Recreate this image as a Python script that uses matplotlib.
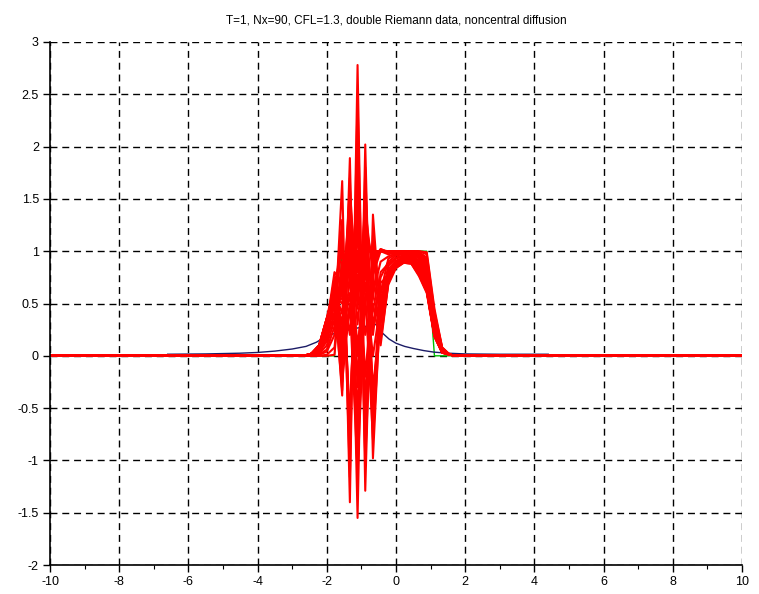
import numpy as np
import matplotlib
matplotlib.use('Agg')
import matplotlib.pyplot as plt
from matplotlib.ticker import MultipleLocator

plt.rcParams['axes.unicode_minus'] = False
plt.rcParams['font.family'] = ['Liberation Sans', 'DejaVu Sans']

title = "T=1, Nx=90, CFL=1.3, double Riemann data, noncentral diffusion"

# grid of the scheme (Nx=90 cells on [-10, 10]); values below start at node 33
Nx = 90
first_node = 33

# exact solution on the nodes (green)
exact_vals = [0, 0, 0, 0, 0, 1, 1, 1, 1, 1, 1, 1, 1, 1, 1, 1, 1, 0, 0, 0, 0]

# numerical solutions, one list per plotted time step (red)
red_01 = [0, 0, 0, 0, 0.01, 0.9, 1, 1, 1, 1, 1, 1, 1, 1, 1, 1, 0.99, 0.45, 0.08, 0.01, 0]
red_02 = [0, 0, 0, 0.01, 0.08, 0.8, 1.04, 0.99, 1, 1, 1, 1, 1, 1, 1, 1, 0.97, 0.42, 0.08, 0.01, 0]
red_03 = [0, 0, 0.01, 0.04, 0.2, 0.72, 1.12, 0.95, 1.03, 0.99, 1, 1, 1, 1, 1, 0.99, 0.94, 0.39, 0.07, 0.01, 0]
red_04 = [0, 0, 0.01, 0.06, 0.28, 0.7, 1.18, 0.9, 1.07, 0.97, 1.0, 1, 1, 1, 1, 0.99, 0.92, 0.4, 0.07, 0.01, 0]
red_05 = [0, 0, 0.02, 0.1, 0.35, 0.66, 1.25, 0.86, 1.1, 0.96, 1.01, 1, 1, 1, 1, 0.98, 0.9, 0.36, 0.07, 0.01, 0]
red_06 = [0, 0.01, 0.03, 0.14, 0.42, 0.6, 1.32, 0.8, 1.16, 0.93, 1.02, 0.99, 1, 1, 0.99, 0.97, 0.88, 0.35, 0.07, 0.01, 0]
red_07 = [0, 0.01, 0.04, 0.17, 0.5, 0.55, 1.42, 0.7, 1.22, 0.9, 1.02, 0.99, 1, 1, 0.99, 0.96, 0.86, 0.33, 0.06, 0.01, 0]
red_08 = [0, 0.01, 0.04, 0.19, 0.56, 0.5, 1.5, 0.6, 1.3, 0.85, 1.01, 0.98, 0.99, 1, 0.99, 0.95, 0.84, 0.32, 0.06, 0.01, 0]
red_09 = [0, 0.01, 0.05, 0.22, 0.62, 0.4, 1.6, 0.45, 1.4, 0.78, 1.0, 0.97, 0.99, 0.99, 0.98, 0.94, 0.82, 0.3, 0.06, 0.01, 0]
red_10 = [0, 0.01, 0.05, 0.24, 0.66, 0.3, 1.2, 0.3, 1.1, 0.6, 0.9, 0.95, 0.98, 0.99, 0.98, 0.93, 0.8, 0.29, 0.06, 0.01, 0]
red_11 = [0, 0.01, 0.06, 0.26, 0.7, 1.0, -0.68, 1.54, -0.5, 0.9, 0.6, 0.93, 0.97, 0.98, 0.97, 0.91, 0.78, 0.28, 0.05, 0.01, 0]
red_12 = [0, 0.01, 0.06, 0.28, 0.75, 0.2, 1.0, 0.0, 0.9, 0.3, 0.75, 0.9, 0.96, 0.97, 0.96, 0.9, 0.76, 0.27, 0.05, 0.01, 0]
red_13 = [0, 0.02, 0.07, 0.3, 0.72, 0.1, 1.5, -0.3, 1.6, 0.2, 0.8, 0.88, 0.94, 0.96, 0.95, 0.88, 0.74, 0.26, 0.05, 0.01, 0]
red_14 = [0, 0.02, 0.07, 0.3, 0.8, 0.7, 0.2, 1.2, -0.2, 0.7, 0.5, 0.86, 0.93, 0.95, 0.94, 0.87, 0.72, 0.25, 0.05, 0.01, 0]
red_15 = [0, 0.02, 0.08, 0.32, 0.5, 1.3, -1.16, 2.46, -0.98, 1.15, 0.45, 0.83, 0.91, 0.94, 0.93, 0.85, 0.7, 0.24, 0.04, 0.01, 0]
red_16 = [0, 0.02, 0.08, 0.33, 0.4, 1.1, -0.8, 1.9, -0.6, 1.0, 0.3, 0.8, 0.9, 0.94, 0.93, 0.84, 0.69, 0.23, 0.04, 0.01, 0]
red_17 = [0, 0.02, 0.09, 0.34, 0.62, -0.38, 1.89, -1.2, 1.8, -0.7, 0.62, 0.8, 0.89, 0.93, 0.92, 0.83, 0.67, 0.22, 0.04, 0.01, 0]
red_18 = [0, 0.02, 0.08, 0.33, 0.58, -0.2, 1.3, -0.8, 1.4, -0.4, 0.4, 0.75, 0.88, 0.92, 0.91, 0.82, 0.66, 0.21, 0.04, 0.01, 0]
red_19 = [0, 0.02, 0.09, 0.35, 0.45, 0.6, 0.4, 1.0, 0.2, 0.6, 0.2, 0.7, 0.86, 0.91, 0.9, 0.8, 0.63, 0.2, 0.04, 0.01, 0]
red_20 = [0, 0.02, 0.1, 0.3, 0.25, 1.67, -1.4, 2.78, -1.29, 1.35, 0.35, 0.77, 0.87, 0.91, 0.9, 0.8, 0.64, 0.2, 0.04, 0.01, 0]
red_21 = [0, 0.02, 0.1, 0.35, 0.6, 0.3, 0.9, 0.1, 0.7, 0.0, 0.5, 0.72, 0.85, 0.9, 0.89, 0.78, 0.62, 0.19, 0.03, 0.01, 0]
red_22 = [0, 0.02, 0.1, 0.36, 0.35, 1.2, -0.9, 2.0, -1.0, 0.8, 0.15, 0.68, 0.84, 0.89, 0.88, 0.77, 0.61, 0.19, 0.03, 0.01, 0]
red_23 = [0, 0.02, 0.1, 0.36, 0.7, 0.0, 1.2, -1.0, 1.3, -0.5, 0.7, 0.76, 0.86, 0.9, 0.89, 0.79, 0.63, 0.2, 0.04, 0.01, 0]
red_24 = [0, 0.02, 0.1, 0.36, 0.55, -0.33, 1.7, -1.55, 2.02, -0.98, 0.55, 0.74, 0.84, 0.89, 0.88, 0.76, 0.6, 0.18, 0.03, 0.01, 0]
red_25 = [0, 0.02, 0.09, 0.34, 0.5, 0.2, 0.6, -0.5, 0.9, -0.3, 0.35, 0.72, 0.85, 0.9, 0.89, 0.78, 0.62, 0.19, 0.03, 0.01, 0]
red_26 = [0, 0.02, 0.09, 0.33, 0.65, -0.1, 0.8, -0.7, 1.1, -0.6, 0.6, 0.78, 0.87, 0.91, 0.9, 0.8, 0.64, 0.2, 0.04, 0.01, 0]
red_27 = [0, 0.02, 0.1, 0.35, 0.3, 0.9, -0.6, 1.3, -0.4, 0.5, 0.1, 0.7, 0.85, 0.9, 0.89, 0.79, 0.63, 0.2, 0.03, 0.01, 0]
red_28 = [0, 0.02, 0.1, 0.36, 0.62, -0.25, 0.5, -1.1, 0.6, -0.8, 0.45, 0.74, 0.86, 0.9, 0.89, 0.78, 0.62, 0.19, 0.03, 0.01, 0]
red_curves = [red_01, red_02, red_03, red_04, red_05, red_06, red_07,
              red_08, red_09, red_10, red_11, red_12, red_13, red_14,
              red_15, red_16, red_17, red_18, red_19, red_20, red_21,
              red_22, red_23, red_24, red_25, red_26, red_27, red_28]

# diffusion profile (blue)
blue_x = [-6.6, -5.5, -4.5, -4.0, -3.5, -3.0, -2.6, -2.3, -2.0, -1.6, -1.2, -0.9,
          -0.58, -0.4, -0.2, 0.0, 0.25, 0.5, 0.8, 1.1, 1.5, 2.0, 3.0, 4.4]
blue_y = [0.015, 0.018, 0.025, 0.032, 0.045, 0.065, 0.09, 0.13, 0.19, 0.23, 0.26, 0.28,
          0.30, 0.22, 0.16, 0.12, 0.09, 0.07, 0.05, 0.035, 0.025, 0.018, 0.015, 0.015]

x_nodes = np.linspace(-10, 10, Nx + 1)


def on_grid(vals):
    full = np.zeros(Nx + 1)
    full[first_node:first_node + len(vals)] = vals
    return full


fig = plt.figure(figsize=(7.59, 5.94), dpi=100)
ax = fig.add_axes([0.0659, 0.0488, 0.9117, 0.8805])

ax.plot(x_nodes, on_grid(exact_vals), color='#00c000', lw=1.0)
ax.plot(blue_x, blue_y, color='#1c1c66', lw=1.0)
for vals in red_curves:
    ax.plot(x_nodes, on_grid(vals), color='#ff0000', lw=1.5)

ax.set_xlim(-10, 10)
ax.set_ylim(-2, 3)
ax.xaxis.set_major_locator(MultipleLocator(2))
ax.xaxis.set_minor_locator(MultipleLocator(1))
ax.yaxis.set_major_locator(MultipleLocator(0.5))
ax.yaxis.set_major_formatter(plt.FuncFormatter(lambda v, p: ('%g' % v)))

ax.grid(True, which='major', color='black', linestyle=(0, (5, 3.5)), lw=1.0)
for s in ['top', 'right']:
    ax.spines[s].set_visible(False)
for s in ['left', 'bottom']:
    ax.spines[s].set_linewidth(1.2)
ax.tick_params(which='major', direction='out', length=5, width=1.0, labelsize=9, pad=3)
ax.tick_params(which='minor', direction='out', length=3, width=0.8)

ax.set_title(title, fontsize=8.5, pad=13)

fig.savefig('out.png', dpi=100)
